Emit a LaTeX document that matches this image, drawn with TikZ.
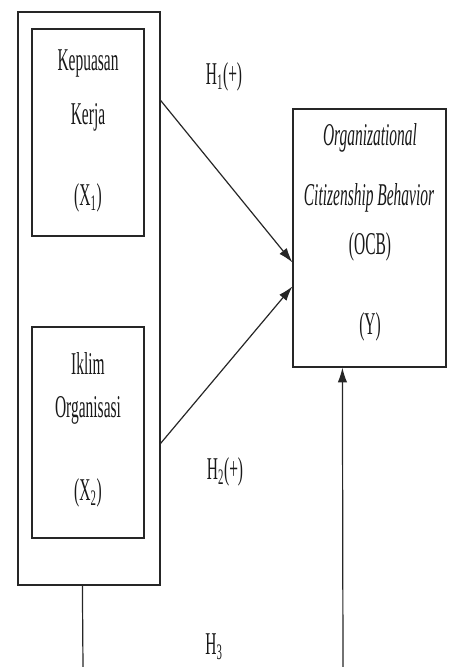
\documentclass[tikz,border=0pt]{standalone}
\usepackage{fontspec}
\setmainfont{Liberation Serif}
\usepackage{graphicx}
\usetikzlibrary{arrows.meta,calc}
\newcommand{\tx}[1]{\scalebox{1}[2.05]{#1}}
\tikzset{
  box/.style={draw=black!85, line width=0.9pt, rectangle, inner sep=0pt},
  lbl/.style={inner sep=0pt, text=black!90, font=\fontsize{11.6pt}{13pt}\selectfont},
  conn/.style={draw=black!85, line width=0.9pt},
  arr/.style={conn, -{Latex[length=11pt,width=7pt]}}
}
\begin{document}
\begin{tikzpicture}[x=0.75pt,y=-0.75pt]
\useasboundingbox (0,0) rectangle (450,667);
% boxes
\node[box, minimum width=142*0.75pt, minimum height=573*0.75pt] (outer) at (89,298.5) {};
\node[box, minimum width=112*0.75pt, minimum height=207*0.75pt] (x1) at (88,132.5) {};
\node[box, minimum width=112*0.75pt, minimum height=211*0.75pt] (x2) at (88,432.5) {};
\node[box, minimum width=153*0.75pt, minimum height=258*0.75pt] (ocb) at (369.5,238) {};
% texts
\node[lbl] (t1a) at (88,63) {\tx{Kepuasan}};
\node[lbl] (t1b) at (88,117) {\tx{Kerja}};
\node[lbl] (t1c) at (88,198) {\tx{(X\textsubscript{1})}};
\node[lbl] (t2a) at (88,363) {\tx{Iklim}};
\node[lbl] (t2b) at (88,410) {\tx{Organisasi}};
\node[lbl] (t2c) at (88,493) {\tx{(X\textsubscript{2})}};
\node[lbl] (t3a) at (370,138) {\tx{\itshape Organizational}};
\node[lbl] (t3b) at (369,198) {\tx{\itshape Citizenship Behavior}};
\node[lbl] (t3c) at (370,247) {\tx{(OCB)}};
\node[lbl] (t3d) at (370,327) {\tx{(Y)}};
\node[lbl] (h1) at (224,77) {\tx{H\textsubscript{1}(+)}};
\node[lbl] (h2) at (225,472) {\tx{H\textsubscript{2}(+)}};
\node[lbl] (h3) at (214,647) {\tx{H\textsubscript{3}}};
% connectors
\draw[arr] ($(outer.north east)+(0,89)$) -- ($(ocb.north west)+(0,154)$);
\draw[arr] ($(outer.north east)+(0,432)$) -- ($(ocb.north west)+(0,178)$);
\coordinate (bl) at (83,667);
\coordinate (br) at (343,667);
\draw[conn] ($(outer.south west)+(65,0)$) -- (bl);
\draw[arr] (br) -- ($(ocb.south west)+(50,0)$);
\end{tikzpicture}
\end{document}
